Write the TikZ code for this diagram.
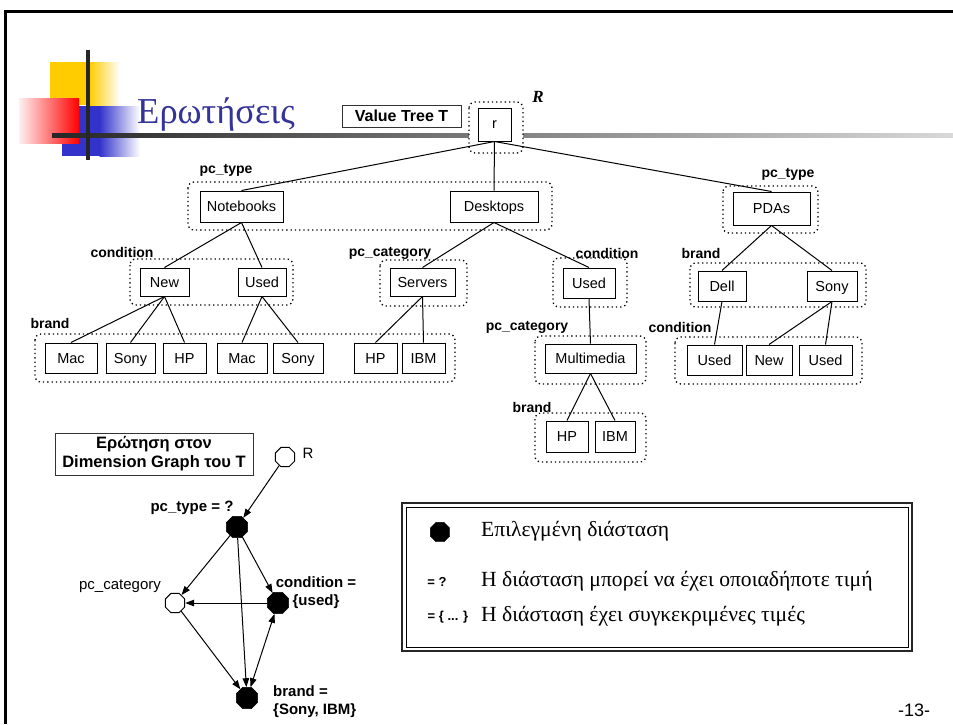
\documentclass[tikz,border=0pt]{standalone}
\usepackage{fontspec}
\setmainfont{Liberation Serif}
\setsansfont{Liberation Sans}
\usetikzlibrary{arrows.meta,shapes.geometric}

\definecolor{logoyellow}{RGB}{255,204,0}
\definecolor{logoblue}{RGB}{51,51,204}
\definecolor{titleblue}{RGB}{51,51,153}

\begin{document}
\begin{tikzpicture}[x=1pt,y=-1pt,
  tbox/.style={draw,line width=1pt,font=\sffamily\fontsize{14.5}{16}\selectfont,inner sep=0pt,
               text height=10.4pt,text depth=0pt,minimum height=30pt},
  grp/.style={draw,line width=1.3pt,dash pattern=on 1.3pt off 3pt,rounded corners=6pt,fill=white},
  dimlabel/.style={font=\sffamily\bfseries\fontsize{14}{16}\selectfont,inner sep=0pt},
  glabel/.style={font=\sffamily\bfseries\fontsize{15}{18}\selectfont,inner sep=0pt},
  edge/.style={line width=1pt},
  arr/.style={line width=1pt,-{Triangle[length=9pt,width=6.5pt]}},
  blk/.style={regular polygon,regular polygon sides=8,fill=black,draw=black,minimum size=23pt,inner sep=0pt},
  wht/.style={regular polygon,regular polygon sides=8,fill=white,draw=black,line width=1pt,minimum size=21pt,inner sep=0pt},
  legtext/.style={font=\fontsize{21.6}{24}\selectfont,inner sep=0pt,anchor=west},
  legsym/.style={font=\sffamily\bfseries\fontsize{13}{15}\selectfont,inner sep=0pt}
]
\useasboundingbox (0,0) rectangle (953,724);

% slide frame
\draw[line width=3pt] (5,724) -- (5,11) -- (953,11);

% title logo
\fill[logoyellow] (50,62) rectangle (90,105);
\shade[left color=logoyellow,right color=white] (89.5,62) rectangle (120,105);
\fill[logoblue] (62,106) rectangle (100,156);
\shade[left color=logoblue,right color=white] (99.5,106) rectangle (140,156);
\shade[left color=red!6,right color=red] (19,98) rectangle (79,143);
\shade[left color=black!85,right color=black!15] (52,133) rectangle (953,137.5);
\fill[black!85] (86,50) rectangle (90,160);
\node[anchor=base west,inner sep=0pt,text=titleblue,font=\fontsize{36.5}{40}\selectfont] (title) at (137,123) {Ερωτήσεις};

% value tree caption
\node[draw=black!80,line width=1pt,minimum width=119pt,minimum height=22pt,inner sep=0pt,
      font=\sffamily\bfseries\fontsize{16}{18}\selectfont] (vtt) at (401.5,116) {Value Tree T};
\node[inner sep=0pt,font=\bfseries\itshape\fontsize{17}{19}\selectfont] (Rlab) at (538,97) {R};

% dimension groups
\draw[grp] (469,102) rectangle (523,153);
\draw[grp] (188,182) rectangle (552,230);
\draw[grp] (723,186) rectangle (818,233);
\draw[grp] (130,259) rectangle (293,305);
\draw[grp] (380,260) rectangle (467,306);
\draw[grp] (553,258) rectangle (627,307);
\draw[grp] (35,334) rectangle (455,382);
\draw[grp] (535,336) rectangle (646,384);
\draw[grp] (535,413) rectangle (646,462);
\draw[grp] (690,263) rectangle (866,307);
\draw[grp] (675,337) rectangle (862,384);

% dimension names
\node[dimlabel] (l1) at (226,170) {pc\_type};
\node[dimlabel] (l2) at (788,174) {pc\_type};
\node[dimlabel] (l3) at (122,252) {condition};
\node[dimlabel] (l4) at (390,253) {pc\_category};
\node[dimlabel] (l5) at (607,253) {condition};
\node[dimlabel] (l6) at (701,253) {brand};
\node[dimlabel] (l7) at (50,323) {brand};
\node[dimlabel] (l8) at (527,327) {pc\_category};
\node[dimlabel] (l9) at (680,327) {condition};
\node[dimlabel] (l10) at (532,407) {brand};

% tree nodes
\node[tbox,minimum width=33pt,minimum height=33pt,text height=8pt] (r) at (494.5,124.5) {r};
\node[tbox,minimum width=83pt,minimum height=31pt] (nb) at (241.5,206.5) {Notebooks};
\node[tbox,minimum width=88pt,minimum height=31pt] (dt) at (494,206.5) {Desktops};
\node[tbox,minimum width=77pt,minimum height=33pt] (pda) at (771.5,208.5) {PDAs};

\node[tbox,minimum width=49pt,minimum height=28pt] (new1) at (164.5,282) {New};
\node[tbox,minimum width=48pt,minimum height=28pt] (used1) at (262,282) {Used};
\node[tbox,minimum width=65pt,minimum height=28pt] (srv) at (422.5,282) {Servers};
\node[tbox,minimum width=52pt,minimum height=30pt] (used2) at (589,283) {Used};
\node[tbox,minimum width=48pt,minimum height=30pt] (dell) at (722,286) {Dell};
\node[tbox,minimum width=50pt,minimum height=30pt] (sony3) at (832,286) {Sony};

\node[tbox,minimum width=52pt] (mac1) at (71,358) {Mac};
\node[tbox,minimum width=49pt] (sony1) at (130.5,358) {Sony};
\node[tbox,minimum width=43pt] (hp1) at (184.5,358) {HP};
\node[tbox,minimum width=50pt] (mac2) at (242,358) {Mac};
\node[tbox,minimum width=50pt] (sony2) at (298,358) {Sony};
\node[tbox,minimum width=43pt] (hp2) at (375.5,358) {HP};
\node[tbox,minimum width=43pt] (ibm1) at (423.5,358) {IBM};

\node[tbox,minimum width=91pt,minimum height=29pt] (mm) at (590.5,358.5) {Multimedia};
\node[tbox,minimum width=42pt,minimum height=31pt] (hp3) at (567,436.5) {HP};
\node[tbox,minimum width=40pt,minimum height=31pt] (ibm2) at (615,436.5) {IBM};

\node[tbox,minimum width=55pt] (used3) at (714.5,360) {Used};
\node[tbox,minimum width=46pt] (new2) at (769,360) {New};
\node[tbox,minimum width=53pt] (used4) at (825.5,360) {Used};

% tree edges
\draw[edge] (r.south) -- (nb.north);
\draw[edge] (r.south) -- (dt.north);
\draw[edge] (r.south) -- (pda.north);
\draw[edge] (nb.south) -- (new1.north);
\draw[edge] (nb.south) -- (used1.north);
\draw[edge] (dt.south) -- (srv.north);
\draw[edge] (dt.south) -- (used2.north);
\draw[edge] (pda.south) -- (dell.north);
\draw[edge] (pda.south) -- (sony3.north);
\draw[edge] (new1.south) -- (mac1.north);
\draw[edge] (new1.south) -- (sony1.north);
\draw[edge] (new1.south) -- (hp1.north);
\draw[edge] (used1.south) -- (mac2.north);
\draw[edge] (used1.south) -- (sony2.north);
\draw[edge] (srv.south) -- (hp2.north);
\draw[edge] (srv.south) -- (ibm1.north);
\draw[edge] (used2.south) -- (mm.north);
\draw[edge] (mm.south) -- (hp3.north);
\draw[edge] (mm.south) -- (ibm2.north);
\draw[edge] (dell.south) -- (used3.north);
\draw[edge] (sony3.south) -- (new2.north);
\draw[edge] (sony3.south) -- (used4.north);

% query caption
\node[draw=black!80,line width=1pt,minimum width=198pt,minimum height=42pt,inner sep=0pt,align=center,
      font=\sffamily\bfseries\fontsize{16.5}{19}\selectfont] (qbox) at (154,454) {Ερώτηση στον\\Dimension Graph του T};

% dimension graph
\node[wht] (gR) at (285,457) {};
\node[blk] (gtype) at (237,527) {};
\node[wht] (gcat) at (175,603) {};
\node[blk] (gcond) at (278,603) {};
\node[blk] (gbrand) at (247,698) {};

\node[inner sep=0pt,font=\sffamily\fontsize{15}{18}\selectfont] (gRl) at (308,453) {R};
\node[glabel] (gtypel) at (192,508) {pc\_type = ?};
\node[inner sep=0pt,font=\sffamily\fontsize{15}{18}\selectfont] (gcatl) at (120,586) {pc\_category};
\node[glabel,align=center] (gcondl) at (316,593) {condition =\\\{used\}};
\node[glabel,align=left,anchor=west] (gbrandl) at (273,702) {brand =\\\{Sony, IBM\}};

\draw[arr] (gR) -- (gtype);
\draw[arr] (gtype) -- (gcat);
\draw[arr] (gtype) -- (gcond);
\draw[arr] (gtype) -- (gbrand);
\draw[arr] (gcond) -- (gcat);
\draw[arr] (gcat) -- (gbrand);
\draw[line width=1pt,{Triangle[length=9pt,width=6.5pt]}-{Triangle[length=9pt,width=6.5pt]}] (gcond) -- (gbrand);

% legend
\draw[line width=2pt,black!85] (402,503) rectangle (912,651);
\draw[line width=0.8pt] (406,507) rectangle (908,647);
\node[blk,minimum size=21pt] (legdot) at (440,532) {};
\node[legtext] (leg1) at (481,531) {Επιλεγμένη διάσταση};
\node[legsym] (legq) at (437,582) {= ?};
\node[legtext] (leg2) at (481,581) {Η διάσταση μπορεί να έχει οποιαδήποτε τιμή};
\node[legsym] (legs) at (448,617) {= \{ ... \}};
\node[legtext] (leg3) at (481,616) {Η διάσταση έχει συγκεκριμένες τιμές};

% page number
\node[inner sep=0pt,font=\sffamily\fontsize{18}{20}\selectfont] (page) at (914,710) {-13-};
\end{tikzpicture}
\end{document}
